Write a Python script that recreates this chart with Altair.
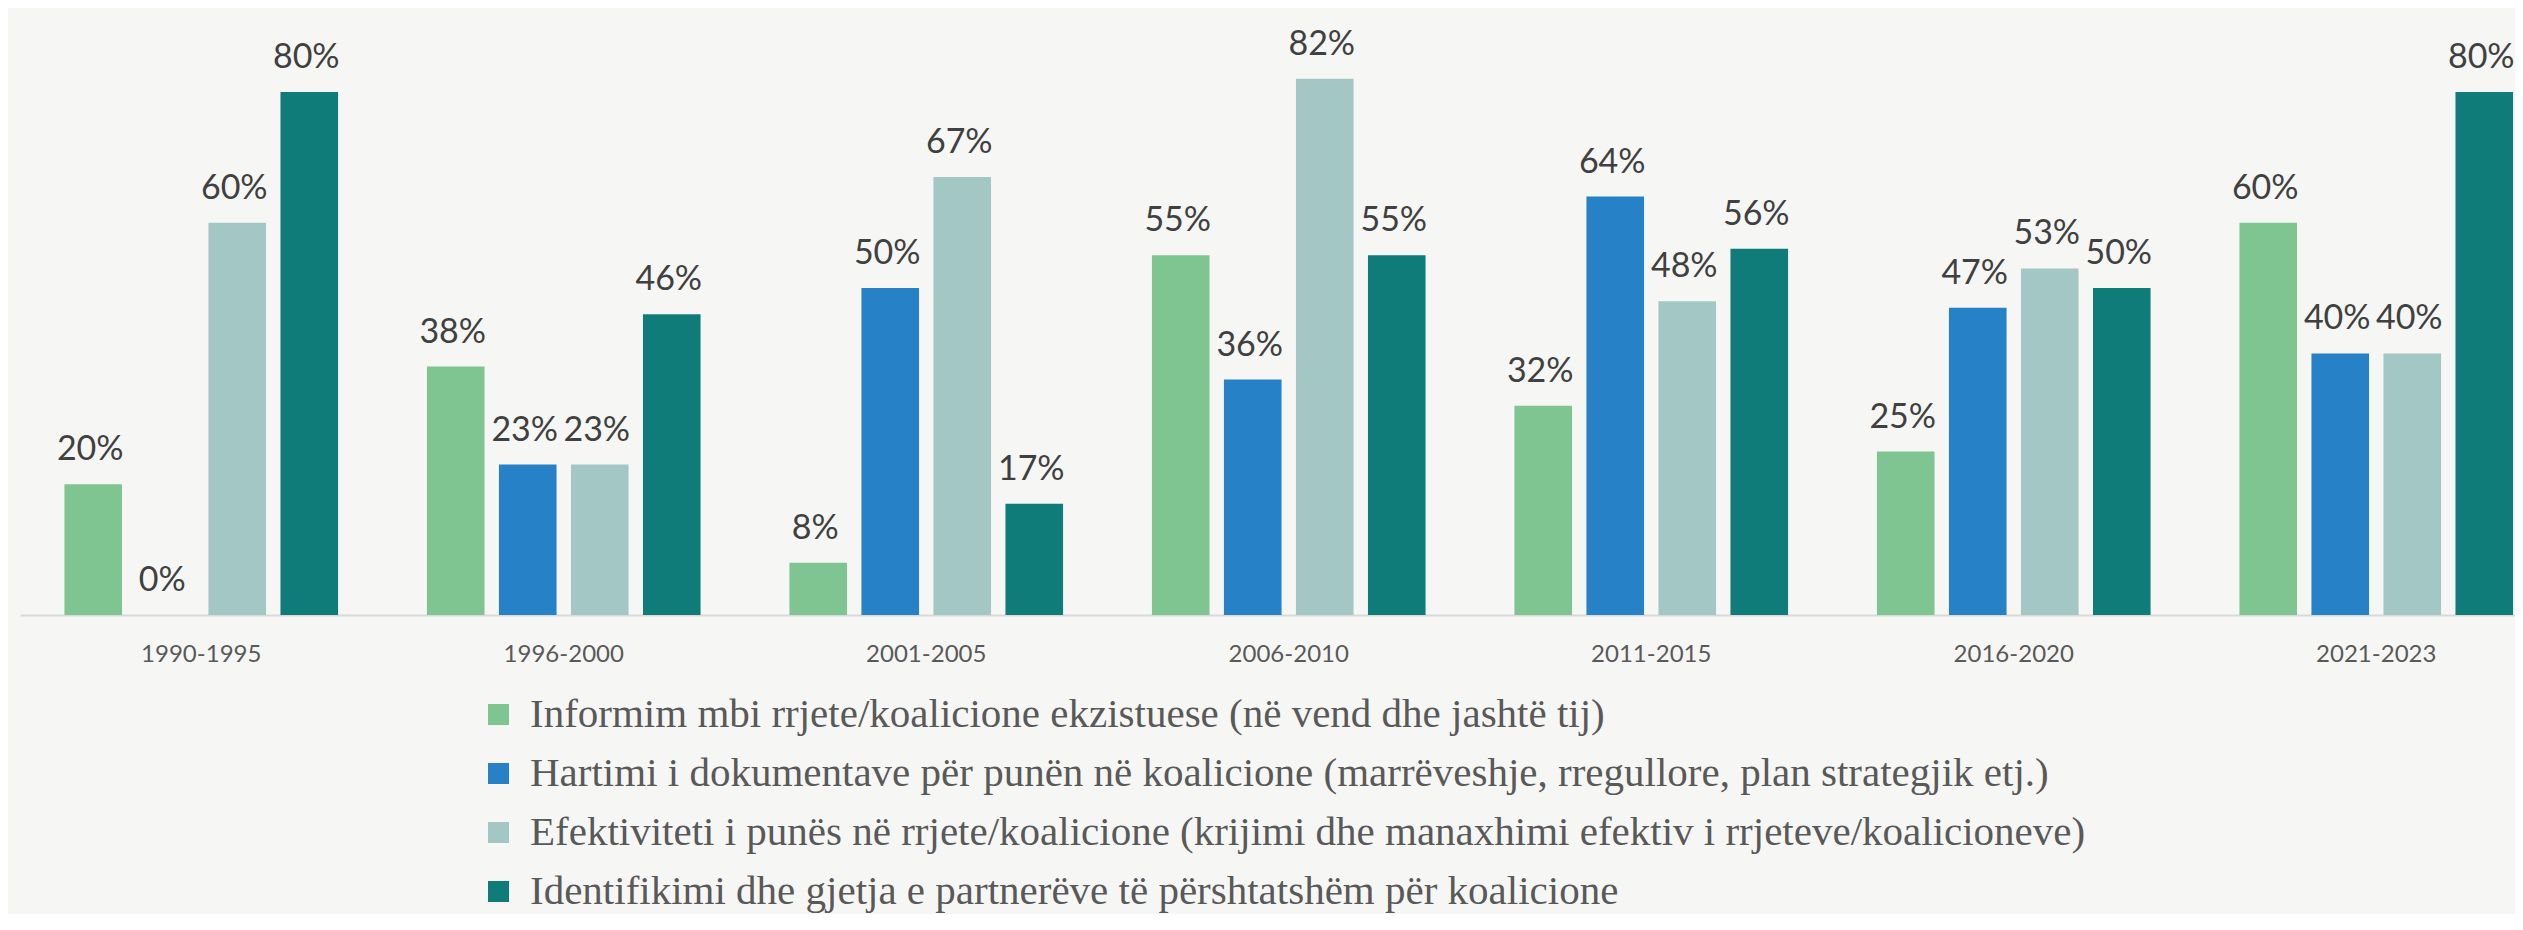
import altair as alt
import pandas as pd

periods = ["1990-1995", "1996-2000", "2001-2005", "2006-2010", "2011-2015", "2016-2020", "2021-2023"]
series = [
    "Informim mbi rrjete/koalicione ekzistuese (në vend dhe jashtë tij)",
    "Hartimi i dokumentave për punën në koalicione (marrëveshje, rregullore, plan strategjik etj.)",
    "Efektiviteti i punës në rrjete/koalicione (krijimi dhe manaxhimi efektiv i rrjeteve/koalicioneve)",
    "Identifikimi dhe gjetja e partnerëve të përshtatshëm për koalicione",
]
informim = [20, 38, 8, 55, 32, 25, 60]
hartimi = [0, 23, 50, 36, 64, 47, 40]
efektiviteti = [60, 23, 67, 82, 48, 53, 40]
identifikimi = [80, 46, 17, 55, 56, 50, 80]
colors = ["#7FC592", "#2681C6", "#A3C7C5", "#107C79"]

rows = []
for s, vals in zip(series, [informim, hartimi, efektiviteti, identifikimi]):
    for p, v in zip(periods, vals):
        rows.append({"period": p, "series": s, "value": v, "label": f"{v}%"})
df = pd.DataFrame(rows)

base = alt.Chart(df).encode(
    x=alt.X(
        "period:N",
        sort=periods,
        scale=alt.Scale(range=[0, 2537.5], paddingInner=0, paddingOuter=0),
        axis=alt.Axis(
            title=None,
            ticks=False,
            grid=False,
            domainColor="#D9D9D9",
            domainWidth=2,
            labelFont="Lato",
            labelFontSize=24,
            labelColor="#595959",
            labelBaseline="alphabetic",
            labelPadding=46,
            labelAngle=0,
        ),
    ),
    xOffset=alt.XOffset(
        "series:N", sort=series, scale=alt.Scale(paddingInner=0.2, paddingOuter=0.617)
    ),
    y=alt.Y("value:Q", scale=alt.Scale(domain=[0, 91.3]), axis=None),
)

bars = base.mark_bar().encode(
    color=alt.Color(
        "series:N",
        sort=series,
        scale=alt.Scale(domain=series, range=colors),
        legend=alt.Legend(
            title=None,
            orient="none",
            legendX=458,
            legendY=676,
            direction="vertical",
            symbolType="square",
            symbolSize=441,
            symbolStrokeWidth=0,
            labelFont="Liberation Serif",
            labelFontSize=41,
            labelColor="#595959",
            labelLimit=2500,
            labelOffset=11,
            rowPadding=17,
            padding=0,
        ),
    )
)

text = base.mark_text(
    baseline="alphabetic", dy=-24, dx=-3, font="Lato", fontSize=34, color="#404040"
).encode(text="label:N")

chart = (
    alt.layer(bars, text)
    .properties(
        width=2495,
        height=597,
        padding={"left": 12, "top": 10, "right": 0, "bottom": 299},
        autosize="none",
        background="#F6F7F5",
    )
    .configure_view(strokeWidth=0)
)

chart.save("out.html", embed_options={"renderer": "svg", "actions": False})
